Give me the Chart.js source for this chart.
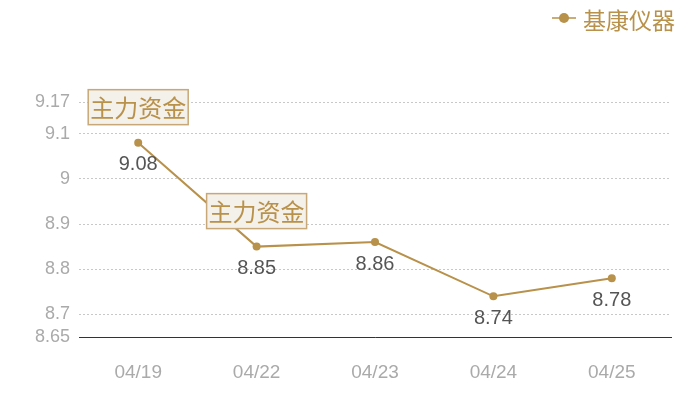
<!DOCTYPE html>
<html>
<head>
<meta charset="utf-8">
<script src="https://cdn.jsdelivr.net/npm/chart.js@4/dist/chart.umd.min.js"></script>
<style>
  html, body { margin: 0; padding: 0; background: #fff; }
  #wrap { width: 700px; height: 400px; }
</style>
</head>
<body>
<div id="wrap"><canvas id="chart"></canvas></div>
<script>
const dates = ['04/19', '04/22', '04/23', '04/24', '04/25'];
const prices = [9.08, 8.85, 8.86, 8.74, 8.78];
const yTicks = [8.65, 8.7, 8.8, 8.9, 9, 9.1, 9.17];
const seriesName = '基康仪器';
const flagText = '主力资金';
const flaggedPoints = [0, 1];

const gold = '#b8914a';
const numFont = "'Liberation Sans', Arial, sans-serif";
const cjkFont = "'Noto Sans CJK SC', sans-serif";

// legend drawn by hand: short line with a dot, then the series name
const legendPlugin = {
    id: 'topLegend',
    afterDraw(chart) {
        const ctx = chart.ctx;
        ctx.save();
        ctx.font = '23px ' + cjkFont;
        const textW = ctx.measureText(seriesName).width;
        const right = chart.width - 25;
        const textX = right - textW;
        const cy = 18;
        ctx.strokeStyle = gold;
        ctx.lineWidth = 1.5;
        ctx.beginPath();
        ctx.moveTo(textX - 31, cy);
        ctx.lineTo(textX - 7, cy);
        ctx.stroke();
        ctx.fillStyle = gold;
        ctx.beginPath();
        ctx.arc(textX - 19, cy, 5, 0, Math.PI * 2);
        ctx.fill();
        ctx.textBaseline = 'middle';
        ctx.fillText(seriesName, textX, cy + 2);
        ctx.restore();
    }
};

const labelPlugin = {
    id: 'pointLabels',
    afterDatasetsDraw(chart) {
        const ctx = chart.ctx;
        const meta = chart.getDatasetMeta(0);
        ctx.save();
        // value labels below each point
        ctx.font = '20px ' + numFont;
        ctx.fillStyle = '#555';
        ctx.textAlign = 'center';
        ctx.textBaseline = 'middle';
        meta.data.forEach((pt, i) => {
            ctx.fillText(String(prices[i]), pt.x, pt.y + 22);
        });
        // flag boxes above some points
        ctx.font = '24px ' + cjkFont;
        flaggedPoints.forEach(i => {
            const pt = meta.data[i];
            const w = 100, h = 35;
            const x = pt.x - w / 2, y = pt.y - 18 - h;
            ctx.fillStyle = '#f4f0ea';
            ctx.fillRect(x, y, w, h);
            ctx.strokeStyle = '#c9a877';
            ctx.lineWidth = 1.5;
            ctx.strokeRect(x, y, w, h);
            ctx.fillStyle = gold;
            ctx.fillText(flagText, pt.x, y + h / 2 + 1);
        });
        ctx.restore();
    }
};

new Chart(document.getElementById('chart'), {
    type: 'line',
    data: {
        labels: dates,
        datasets: [{
            label: seriesName,
            data: prices,
            borderColor: gold,
            backgroundColor: gold,
            borderWidth: 2,
            pointRadius: 4,
            pointHoverRadius: 4,
            pointBackgroundColor: gold,
            pointBorderWidth: 0,
            tension: 0
        }]
    },
    options: {
        responsive: true,
        maintainAspectRatio: false,
        animation: false,
        layout: { padding: { left: 0, right: 29, top: 102, bottom: 0 } },
        plugins: {
            tooltip: { enabled: false },
            legend: { display: false }
        },
        scales: {
            x: {
                offset: true,
                grid: { display: false },
                border: { display: true, color: '#333', width: 1 },
                afterFit(scale) {
                    scale.height = 63;
                },
                ticks: {
                    color: '#aaa',
                    padding: 16,
                    font: { size: 19, family: numFont }
                }
            },
            y: {
                min: 8.65,
                max: 9.17,
                afterBuildTicks(scale) {
                    scale.ticks = yTicks.map(v => ({ value: v }));
                },
                afterFit(scale) {
                    scale.width = 79;
                },
                grid: {
                    color: '#c8c8c8',
                    drawTicks: false
                },
                border: { display: false, dash: [2, 2] },
                ticks: {
                    color: '#aaa',
                    padding: 9,
                    font: { size: 18, family: numFont },
                    callback: v => String(v)
                }
            }
        }
    },
    plugins: [labelPlugin, legendPlugin]
});
</script>
</body>
</html>
